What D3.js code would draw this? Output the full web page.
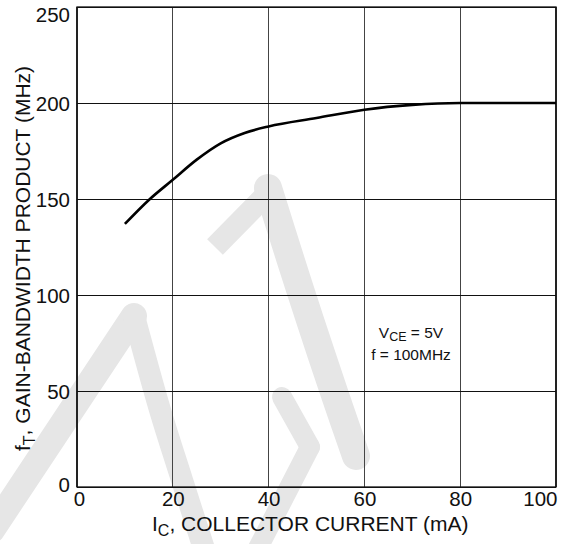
<!DOCTYPE html>
<html>
<head>
<meta charset="utf-8">
<script src="https://cdn.jsdelivr.net/npm/d3@7"></script>
<style>
  html, body { margin: 0; padding: 0; background: #fff; }
  svg { display: block; font-family: "Liberation Sans", Arial, sans-serif; }
</style>
</head>
<body>
<svg id="chart" width="569" height="544"></svg>
<script>
// Collector current (mA) and gain-bandwidth product (MHz)
const icValues = [10, 15, 20, 25, 30, 35, 40, 50, 60, 70, 80, 90, 100];
const ftValues = [137, 149.5, 160, 170.5, 179, 184.4, 187.8, 192.2, 196.5, 199, 200, 200, 200];
const xTicks = [0, 20, 40, 60, 80, 100];
const yTicks = [0, 50, 100, 150, 200, 250];

const svg = d3.select("#chart");
const margin = { left: 77, right: 13, top: 7, bottom: 57 };
const W = 569, H = 544;
const tickFont = 20.5;

const x = d3.scaleLinear().domain([0, 100]).range([margin.left, W - margin.right]);
const y = d3.scaleLinear().domain([0, 250]).range([H - margin.bottom, margin.top]);

// Background logo strokes
const wm = svg.append("g").attr("fill", "none").attr("stroke", "#e6e6e6")
  .attr("stroke-linecap", "round").attr("stroke-linejoin", "round");
const wmLine = d3.line().curve(d3.curveCatmullRom);
[
  { p: [[-8, 530], [134, 316]], w: 26 },
  { p: [[134, 316], [160, 410], [182, 480], [205, 552]], w: 22 },
  { p: [[215, 247], [266, 195]], w: 22, cap: "butt" },
  { p: [[268, 188], [290, 258], [310, 320], [335, 395], [356, 456]], w: 28 },
  { p: [[282, 397], [310, 447]], w: 20 },
  { p: [[310, 447], [256, 552]], w: 20 }
].forEach(s => wm.append("path").attr("d", wmLine(s.p))
  .attr("stroke-width", s.w).attr("stroke-linecap", s.cap || "round"));

// Grid
const grid = svg.append("g").attr("shape-rendering", "crispEdges");
grid.selectAll(".vx").data(xTicks).join("line")
  .attr("stroke", "#444").attr("stroke-width", 1.2)
  .attr("x1", d => x(d)).attr("x2", d => x(d))
  .attr("y1", y(0)).attr("y2", y(250));
grid.selectAll(".hy").data(yTicks).join("line")
  .attr("stroke", "#111").attr("stroke-width", 1)
  .attr("x1", x(0)).attr("x2", x(100))
  .attr("y1", d => y(d)).attr("y2", d => y(d));

// Frame
svg.append("rect")
  .attr("x", x(0)).attr("y", y(250))
  .attr("width", x(100) - x(0)).attr("height", y(0) - y(250))
  .attr("fill", "none").attr("stroke", "#111").attr("stroke-width", 1.3);

// Axes (labels only)
const xAxis = svg.append("g").attr("transform", `translate(0,${y(0)})`)
  .call(d3.axisBottom(x).tickValues(xTicks).tickSize(0).tickPadding(4).tickFormat(d3.format("d")));
xAxis.select(".domain").remove();
xAxis.selectAll("text").attr("font-size", tickFont).attr("fill", "#111")
  .attr("font-family", "Liberation Sans, Arial, sans-serif")
  .attr("text-anchor", d => d === 100 ? "end" : "middle")
  .attr("x", d => d === 100 ? 1 : (d === 0 ? 2 : 0));

const yAxis = svg.append("g").attr("transform", `translate(${x(0)},0)`)
  .call(d3.axisLeft(y).tickValues(yTicks).tickSize(0).tickPadding(7).tickFormat(d3.format("d")));
yAxis.select(".domain").remove();
yAxis.selectAll("text").attr("font-size", tickFont).attr("fill", "#111")
  .attr("font-family", "Liberation Sans, Arial, sans-serif")
  .attr("dy", d => d === 250 ? "0.72em" : (d === 0 ? "0.22em" : "0.35em"));

// Curve
svg.append("path")
  .datum(icValues.map((v, i) => [v, ftValues[i]]))
  .attr("fill", "none").attr("stroke", "#000").attr("stroke-width", 2.6)
  .attr("d", d3.line().x(d => x(d[0])).y(d => y(d[1])).curve(d3.curveMonotoneX));

// Test conditions
const note = svg.append("text").attr("text-anchor", "middle").attr("font-size", 15.5).attr("fill", "#111");
note.append("tspan").attr("x", 411).attr("y", 338).text("V");
note.append("tspan").attr("font-size", 12.5).attr("dy", 3).text("CE");
note.append("tspan").attr("dy", -3).text(" = 5V");
svg.append("text").attr("text-anchor", "middle").attr("font-size", 15.5).attr("fill", "#111")
  .attr("x", 411).attr("y", 360).text("f = 100MHz");

// Axis titles
const xt = svg.append("text").attr("text-anchor", "start").attr("font-size", 21).attr("fill", "#111")
  .attr("x", 152).attr("y", 531);
xt.append("tspan").text("I");
xt.append("tspan").attr("font-size", 16).attr("dy", 5).text("C");
xt.append("tspan").attr("dy", -5).text(", COLLECTOR CURRENT (mA)");

const yt = svg.append("text").attr("text-anchor", "start").attr("font-size", 21).attr("fill", "#111")
  .attr("transform", "translate(30,451) rotate(-90)");
yt.append("tspan").text("f");
yt.append("tspan").attr("font-size", 16).attr("dy", 5).text("T");
yt.append("tspan").attr("dy", -5).text(", GAIN-BANDWIDTH PRODUCT (MHz)");
</script>
</body>
</html>
